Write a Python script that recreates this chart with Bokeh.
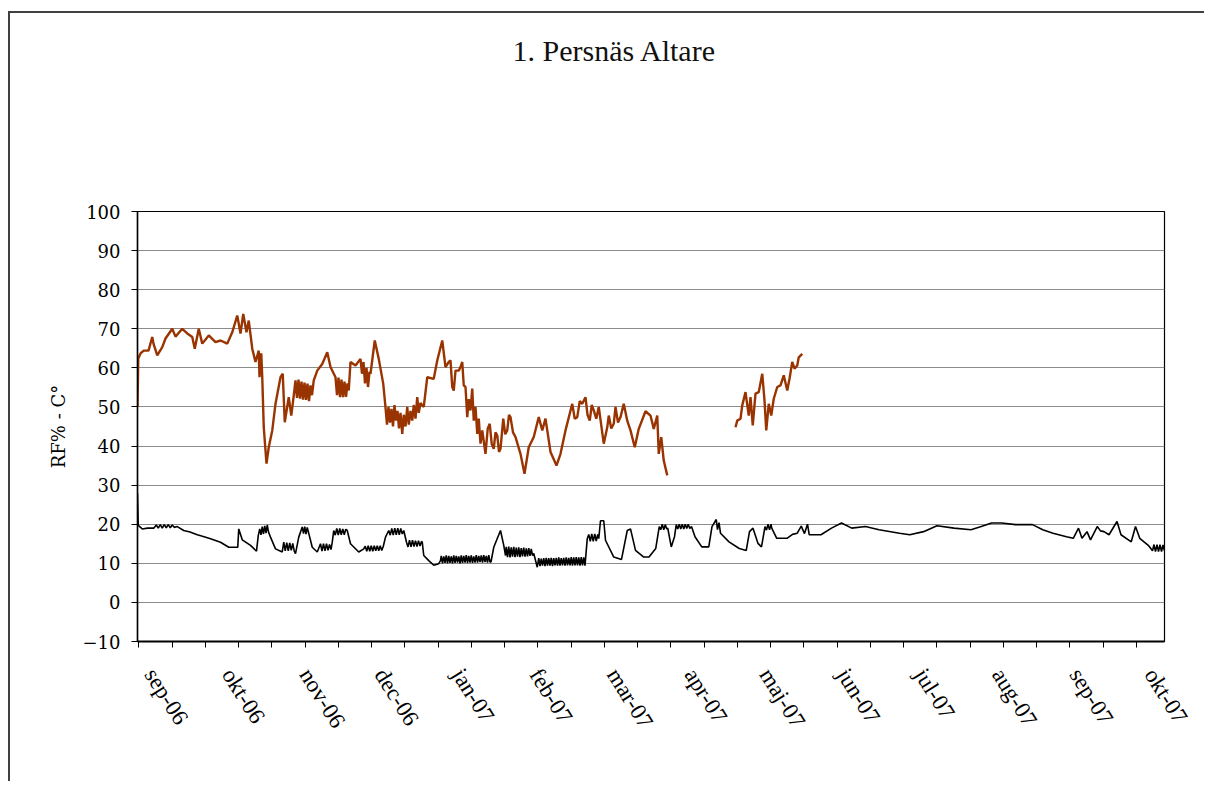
import numpy as np
from bokeh.plotting import figure
from bokeh.models import Range1d, FixedTicker, Title
from bokeh.embed import file_html
from bokeh.resources import INLINE

# ---------------- data (days since start of the logging period) ----------------
# Relative humidity RF% (None = logger gap)
rf_day = [0, 0.3, 1.2, 2.5, 4.4, 5.9, 6.4, 7.9, 9.9, 11.2, 13.9, 15.2, 17.9, 19.9, 21.9, 22.9,
          24.5, 25.9, 28.5, 31.2, 33.2, 35.9, 37.9, 39.9, 41.2, 42.3, 43.6, 44.5, 45.9, 47.2,
          48.5, 48.8, 49.5, 49.9, 50.5, 51.6, 52.5, 53.9, 55.2, 57.2, 58.1, 58.9, 60.5, 61.5,
          62.5, 63.2, 63.8, 64.4, 65.0, 65.6, 66.2, 66.8, 67.4, 68.0, 68.6, 69.2, 69.8, 70.5,
          71.9, 73.9, 75.9, 77.2, 79.2, 79.8, 80.4, 81.0, 81.6, 82.2, 82.8, 83.4, 84.0, 84.5,
          85.2, 87.2, 89.2, 89.8, 90.4, 91.0, 91.6, 92.2, 92.8, 93.2, 94.9, 96.5, 98.3, 99.2,
          99.8, 100.4, 101.0, 101.6, 102.2, 102.8, 103.4, 104.0, 104.6, 105.2, 105.9, 106.5,
          107.2, 107.9, 108.5, 109.2, 109.9, 110.5, 111.2, 111.9, 112.5, 113.2, 114.5, 115.9,
          118.5, 119.9, 121.9, 123.2, 124.5, 125.2, 125.9, 126.5, 127.2, 128.5, 129.2, 129.9,
          130.5, 131.2, 131.9, 132.5, 133.2, 133.9, 134.5, 135.2, 135.9, 136.5, 137.2, 137.9,
          139.2, 140.1, 140.9, 141.7, 142.5, 143.2, 143.9, 144.6, 145.2, 146.3, 147.1, 147.9,
          148.6, 149.2, 150.2, 151.2, 153.2, 154.8, 156.5, 158.5, 160.5, 161.9, 163.2, 165.2,
          167.6, 169.2, 171.2, 173.9, 174.9, 175.9, 176.9, 177.9, 179.2, 180.0, 180.9, 181.7,
          182.5, 183.5, 184.5, 186.5, 187.9, 188.5, 189.5, 190.5, 191.2, 192.2, 193.2, 194.5,
          195.9, 197.2, 198.9, 200.5, 203.2, 205.2, 206.5, 207.9, 208.5, 209.5, 210.5, 211.9,
          225.0,
          239.2, 239.9, 241.2, 241.9, 243.2, 244.5, 245.2, 246.1, 247.2, 248.5, 249.9, 250.8,
          251.5, 252.5, 253.5, 254.5, 255.9, 257.2, 258.5, 259.9, 260.8, 261.9, 262.8, 263.9,
          264.5, 265.9]
rf_val = [50, 62.4, 63.7, 64.4, 64.4, 67.9, 66.2, 63.2, 65.3, 67.5, 70, 68, 70, 68.8, 67.9, 64.9,
          70, 66.2, 68.3, 66.6, 67, 66.2, 69.1, 73.4, 68.8, 73.8, 69.1, 72.1, 64.9, 61.5,
          64.4, 57.6, 63.7, 57.6, 44.8, 35.5, 39.7, 44, 50.8, 57.6, 58.5, 46.1, 52.5, 47.8,
          52.9, 56.8, 52.3, 57.0, 52.1, 56.5, 51.9, 56.2, 51.8, 56.0, 51.5, 55.5, 53.0, 56.8,
          59.3, 61, 64, 60.2, 57.6, 53.0, 57.5, 52.5, 57.0, 52.5, 56.5, 52.6, 56.0, 54.2,
          61.5, 60.6, 62.3, 58.5, 61.5, 56.0, 60.0, 55.1, 59.0, 58.5, 67, 62.3, 55.9, 49.9,
          45.5, 50.0, 46.0, 49.5, 45.0, 50.5, 46.5, 49.0, 44.5, 48.5, 43.1, 48.0,
          45.0, 50.0, 45.5, 49.0, 46.5, 50.5, 47.0, 52.5, 48.5, 51.0, 50, 57.6,
          57.2, 61.9, 67, 60.2, 61.5, 61.9, 55.1, 54.2, 59.3, 59.3, 60.2, 61.5,
          55.5, 55.1, 47.4, 52.0, 49.1, 54.7, 46.5, 50.0, 43.1, 47.0, 40.6, 44,
          38, 44.5, 45.7, 40.5, 39.3, 43.5, 42.7, 38.5, 39.3, 47, 43.0, 44,
          48.0, 47.4, 43.5, 42.3, 38, 32.9, 39.7, 42.3, 47.4, 44, 47, 38.5,
          35, 38, 44, 50.8, 47.0, 47.4, 51.5, 50.8, 52.5, 48.0, 46.5, 50.5,
          49.1, 47.0, 50, 40.6, 44.8, 47.8, 44.5, 45.7, 50, 46.0, 47.4, 50.8,
          46.5, 44, 39.7, 44.4, 48.9, 47.8, 44.4, 47.8, 38, 42.3, 36.3, 32.5,
          None,
          44.8, 46.5, 47, 50.4, 53.8, 47.8, 52.5, 45.3, 53.4, 53.8, 58.5, 51.7,
          44, 50.8, 47.8, 52.1, 55.1, 55.5, 58.1, 54.2, 57.2, 61.5, 59.8, 60.6,
          62.7, 63.6]

# Temperature C
temp_day = [0, 0.3, 1.9, 4.0, 6.5, 7.5, 8.3, 9.1, 9.9, 10.7, 11.5, 12.3, 13.1, 13.9, 14.7, 15.9,
            18.5, 21.0, 23.9, 26.0, 29.2, 33.2, 36.5, 40.1, 40.5, 41.9, 45.2, 47.6, 48.3,
            48.9, 49.4, 49.9, 50.4, 50.9, 51.4, 51.9, 52.4, 53.2, 55.2, 57.9, 58.5,
            59.1, 59.7, 60.3, 60.9, 61.5, 62.1, 62.7, 63.2, 64.5, 65.9,
            66.4, 66.9, 67.4, 67.9, 69.9, 71.9, 73.2,
            73.8, 74.4, 75.0, 75.6, 76.2, 76.8, 77.4, 77.9, 78.5,
            79.1, 79.7, 80.3, 80.9, 81.5, 82.1, 82.7, 83.3, 83.9, 85.2, 88.5, 90.5,
            91.1, 91.7, 92.3, 92.9, 93.5, 94.1, 94.7, 95.3, 95.9, 96.5, 97.1, 97.7, 98.3,
            99.2, 100.5, 101.1, 101.7, 102.3, 102.9, 103.5, 104.1, 104.7, 105.3, 105.9, 106.5,
            107.6, 108.2, 108.8, 109.4, 110.0, 110.6, 111.2, 111.8, 112.4, 113.0, 113.6, 113.9,
            114.5, 116.5, 118.5, 120.5, 121.2,
            121.5, 122.0, 122.5, 123.0, 123.5, 124.0, 124.5, 125.0, 125.5, 126.0, 126.5, 127.0,
            127.5, 128.0, 128.5, 129.0, 129.5, 130.0, 130.5, 131.0, 131.5, 132.0, 132.5, 133.0,
            133.5, 134.0, 134.5, 135.0, 135.5, 136.0, 136.5, 137.0, 137.5, 138.0, 138.5, 139.0,
            139.5, 140.0, 140.5, 141.0,
            141.4, 142.5, 145.2, 146.5, 147.2,
            147.5, 148.0, 148.5, 149.0, 149.5, 150.0, 150.5, 151.0, 151.5, 152.0, 152.5, 153.0,
            153.5, 154.0, 154.5, 155.0, 155.5, 156.0, 156.5, 157.0, 157.5, 158.0, 158.5, 159.9,
            160.5, 161.0, 161.5, 162.0, 162.5, 163.0, 163.5, 164.0, 164.5, 165.0, 165.5, 166.0,
            166.5, 167.0, 167.5, 168.0, 168.5, 169.0, 169.5, 170.0, 170.5, 171.0, 171.5, 172.0,
            172.5, 173.0, 173.5, 174.0, 174.5, 175.0, 175.5, 176.0, 176.5, 177.0, 177.5, 178.0,
            178.5, 179.0,
            179.9, 180.5, 181.1, 181.7, 182.3, 182.9, 183.5, 184.1, 184.5,
            185.2, 186.5, 187.2, 190.5, 193.6, 195.9, 197.2, 199.2, 202.5, 204.6, 207.3, 208.7,
            209.3, 209.9, 210.5, 211.1, 211.7, 212.1, 213.5, 214.8, 215.5,
            216.1, 216.7, 217.3, 217.9, 218.5, 219.1, 219.7, 220.3, 220.9, 221.6,
            223.0, 225.7, 228.5, 229.8, 231.5, 232.0, 232.6, 233.2, 236.6, 240.7, 243.5,
            244.8, 246.2, 248.2, 249.6, 251.0, 251.6, 252.2, 252.8, 253.4, 253.7,
            255.7, 259.8, 262.0, 263.9, 265.5, 266.8, 268.0, 268.7, 273.4, 277.6, 281.6, 285.7,
            291.2, 296.6, 304.8, 308.9, 314.4, 319.8, 326.6, 333.4, 337.5, 341.6, 345.7, 351.2,
            358.0, 362.1, 366.2, 371.6, 374.3, 376.4, 377.8, 379.8, 381.2, 383.9, 385.2,
            386.6, 388.6, 391.8, 393.4, 397.5, 399.2, 400.9, 404.3,
            406.0, 406.6, 407.2, 407.8, 408.4, 409.0, 409.6, 410.2, 410.8]
temp_val = [27.9, 19.7, 18.8, 19.0, 19.0, 19.8, 19.0, 19.9, 19.0, 19.9, 19.1, 19.9, 19.1, 19.8, 19.2, 19.4,
            18.4, 18.0, 17.3, 16.9, 16.3, 15.4, 14.1, 14.1, 18.8, 16, 14.6, 13.1, 17.1,
            18.8, 17.3, 19.4, 17.5, 19.6, 17.7, 19.8, 18.0, 16.7, 13.7, 12.9, 15.4,
            13.2, 15.3, 13.2, 15.2, 13.3, 15.1, 13.1, 12.5, 16.7, 19.3,
            17.6, 19.4, 17.5, 19.2, 14.1, 12.9, 15,
            13.1, 15.0, 13.2, 15.0, 13.3, 14.8, 13.5, 15.4, 18.4,
            17.2, 18.9, 17.2, 18.9, 17.3, 18.8, 17.3, 18.7, 18.4, 15, 12.9, 13.7,
            14.4, 13.1, 14.5, 13.1, 14.5, 13.1, 14.5, 13.2, 14.5, 13.2, 14.5, 13.3, 14.3,
            16.7, 18.4, 17.2, 18.9, 17.2, 19.0, 17.3, 19.0, 17.3, 18.9, 17.5, 18.4,
            15.4, 14.2, 15.9, 14.2, 15.9, 14.3, 15.8, 14.3, 15.8, 14.4, 15.6, 15.4,
            12.0, 10.7, 9.5, 9.9, 10.7,
            11.9, 10.0, 11.8, 10.1, 12.0, 10.0, 11.9, 10.1, 11.8, 10.0, 12.0, 10.1,
            11.9, 10.2, 11.8, 10.0, 12.0, 10.1, 11.9, 10.2, 12.1, 10.1, 11.9, 10.2,
            12.0, 10.1, 11.8, 10.2, 12.1, 10.2, 11.9, 10.3, 12.0, 10.2, 12.1, 10.3,
            11.9, 10.2, 12.1, 10.3,
            10.4, 14.1, 18.4, 14.6, 12.0,
            14.2, 11.6, 14.3, 11.5, 14.1, 11.7, 14.2, 11.6, 14.0, 11.7, 14.1, 11.6,
            13.9, 11.8, 14.0, 11.7, 13.8, 11.8, 13.9, 11.9, 13.7, 12.0, 12.5, 9.0,
            11.3, 9.3, 11.2, 9.4, 11.3, 9.3, 11.4, 9.4, 11.3, 9.4, 11.4, 9.3,
            11.3, 9.5, 11.4, 9.4, 11.5, 9.4, 11.3, 9.5, 11.4, 9.4, 11.5, 9.5,
            11.4, 9.5, 11.6, 9.4, 11.5, 9.5, 11.6, 9.5, 11.5, 9.4, 11.6, 9.5,
            11.5, 9.4,
            16.3, 17.4, 15.6, 17.5, 15.6, 17.5, 15.7, 17.4, 16.3,
            20.9, 20.9, 15.9, 11.6, 11.0, 18.4, 18.8, 13.3, 11.6, 11.6, 13.8, 19.4,
            18.6, 20.0, 18.6, 19.9, 18.8, 19.0, 14.2, 16.8, 19.9,
            18.8, 20.0, 18.8, 20.0, 18.8, 20.0, 18.9, 20.0, 18.9, 19.4,
            16.8, 14.2, 14.2, 19.4, 21.2, 18.6, 20.4, 17.7, 15.5, 13.8, 13.3,
            18.1, 19.0, 15.1, 14.2, 19.4, 18.5, 20.0, 18.6, 20.0, 19.0,
            16.4, 16.4, 17.4, 17.7, 19.5, 17.6, 20.0, 17.3, 17.3, 19.0, 20.3, 19.0,
            19.4, 18.6, 17.7, 17.3, 18.1, 19.6, 19.0, 18.6, 19.4, 20.3, 20.3, 19.9,
            19.9, 18.6, 17.7, 16.8, 16.4, 19.0, 16.4, 18.1, 16.0, 19.4, 18.3,
            18.1, 17.3, 20.7, 17.3, 15.5, 19.4, 16.4, 14.6,
            13.2, 14.8, 13.0, 14.8, 13.0, 14.8, 13.0, 14.7, 13.2]

month_labels = ["sep-06", "okt-06", "nov-06", "dec-06", "jan-07", "feb-07", "mar-07",
                "apr-07", "maj-07", "jun-07", "jul-07", "aug-07", "sep-07", "okt-07"]
label_days = [5, 36, 67, 97, 128, 159, 190, 221, 251, 282, 313, 344, 375, 405]
y_ticks = [-10, 0, 10, 20, 30, 40, 50, 60, 70, 80, 90, 100]
title_text = "1. Persnäs Altare"

rf_y = np.array([np.nan if v is None else v for v in rf_val], dtype=float)

# ---------------- figure ----------------
p = figure(width=1196, height=770, output_backend="svg", toolbar_location=None,
           title=title_text,
           x_range=Range1d(0, 410.8), y_range=Range1d(-10, 100),
           min_border_left=127, min_border_right=42, min_border_top=198, min_border_bottom=142,
           background_fill_color="white", border_fill_color="white")
p.styles = {"margin-left": "8px", "margin-top": "11px",
            "border-top": "2px solid #404040", "border-left": "2px solid #404040"}

p.title.align = "left"
p.title.offset = 375
p.title.vertical_align = "bottom"
p.title.standoff = 10
p.title.text_font = "Liberation Serif"
p.title.text_font_size = "30px"
p.title.text_font_style = "normal"
p.title.text_color = "#111111"
# empty spacer between the title and the plot area
p.add_layout(Title(text=" ", text_font_size="10px", standoff=127), "above")

p.outline_line_color = "black"
p.outline_line_width = 1.2
p.xgrid.grid_line_color = None
p.ygrid.grid_line_color = "#8c8c8c"
p.ygrid.grid_line_width = 1

minor_days = [round(0.52 + 13.3 * k, 2) for k in range(31)]
p.xaxis.ticker = FixedTicker(ticks=label_days, minor_ticks=minor_days)
p.xaxis.major_label_overrides = {d: t for d, t in zip(label_days, month_labels)}
p.xaxis.major_tick_line_color = None
p.xaxis.major_tick_out = 0
p.xaxis.major_tick_in = 0
p.xaxis.minor_tick_line_color = "black"
p.xaxis.minor_tick_out = 6
p.xaxis.minor_tick_in = 0
p.xaxis.axis_line_width = 2
p.xaxis.major_label_orientation = -1.01
p.xaxis.major_label_standoff = 23
p.xaxis.major_label_text_font = "Liberation Serif"
p.xaxis.major_label_text_font_size = "23px"
p.xaxis.major_label_text_color = "black"

p.yaxis.ticker = FixedTicker(ticks=y_ticks)
p.yaxis.major_tick_out = 6
p.yaxis.major_tick_in = 0
p.yaxis.minor_tick_line_color = None
p.yaxis.axis_line_width = 1.5
p.yaxis.major_label_standoff = 11
p.yaxis.major_label_text_font = "DejaVu Serif"
p.yaxis.major_label_text_font_size = "18px"
p.yaxis.major_label_text_color = "black"
p.yaxis.axis_label = "RF% - C°"
p.yaxis.axis_label_text_font = "DejaVu Serif"
p.yaxis.axis_label_text_font_size = "18px"
p.yaxis.axis_label_text_font_style = "normal"
p.yaxis.axis_label_text_color = "black"
p.yaxis.axis_label_standoff = 11

p.line(temp_day, temp_val, line_color="black", line_width=1.6)
p.line(rf_day, rf_y, line_color="#993300", line_width=2.4)

open("out.html", "w").write(file_html(p, INLINE))
